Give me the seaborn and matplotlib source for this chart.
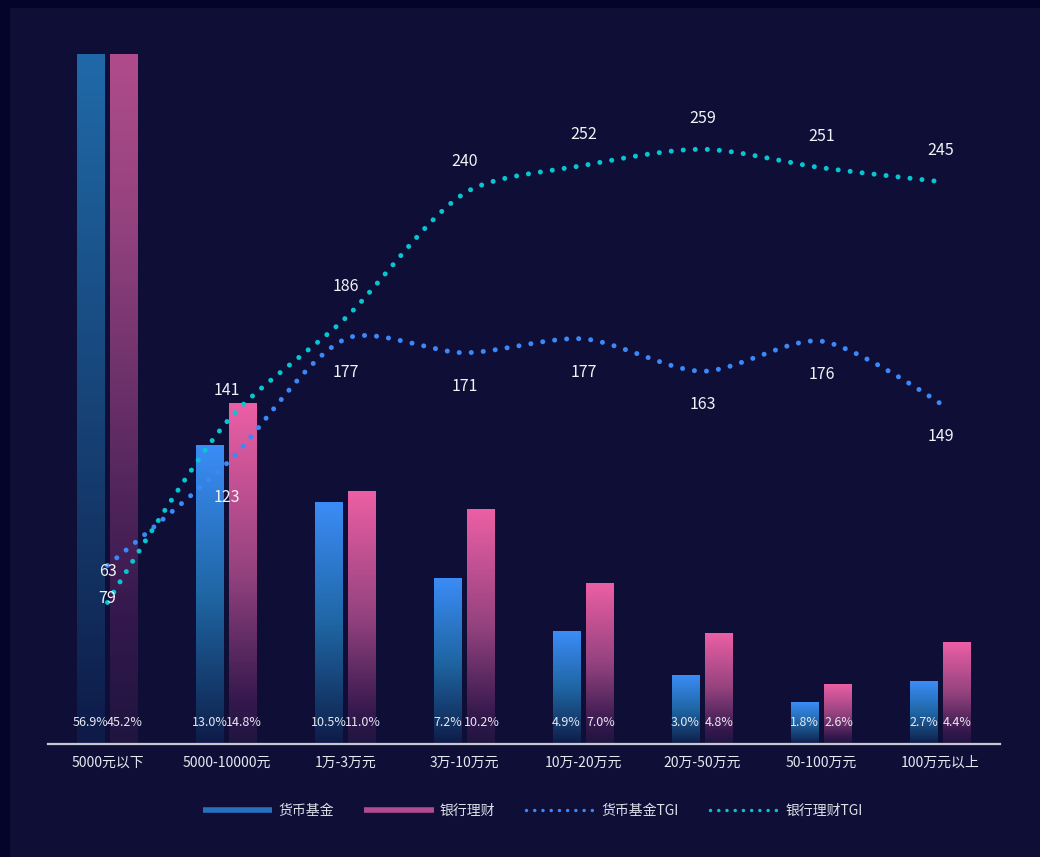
import numpy as np
import pandas as pd
import matplotlib
matplotlib.use("Agg")
import matplotlib.pyplot as plt
import seaborn as sns
from matplotlib.colors import LinearSegmentedColormap
from matplotlib.lines import Line2D
from matplotlib.patches import Rectangle

# ---------------- data ----------------
categories = ["5000元以下", "5000-10000元", "1万-3万元", "3万-10万元",
              "10万-20万元", "20万-50万元", "50-100万元", "100万元以上"]
fund_share = [56.9, 13.0, 10.5, 7.2, 4.9, 3.0, 1.8, 2.7]
wealth_share = [45.2, 14.8, 11.0, 10.2, 7.0, 4.8, 2.6, 4.4]
fund_tgi = [79, 123, 177, 171, 177, 163, 176, 149]
wealth_tgi = [63, 141, 186, 240, 252, 259, 251, 245]
series_names = ["货币基金", "银行理财", "货币基金TGI", "银行理财TGI"]

# ---------------- style ----------------
sns.set_theme(style="dark")
plt.rcParams["font.family"] = ["Noto Sans CJK SC", "DejaVu Sans"]
plt.rcParams["axes.unicode_minus"] = False

BG_OUTER = "#04042a"
BG_INNER = "#0f0e37"
TXT = "#e8e8f0"
BLUE_LINE = "#3b88f7"
CYAN_LINE = "#08c6cf"
BAR_TOP = 30

fig = plt.figure(figsize=(10.4, 8.57), dpi=100, facecolor=BG_OUTER)
fig.patches.append(Rectangle((10 / 1040, 0), 1, (857 - 8) / 857,
                             transform=fig.transFigure, facecolor=BG_INNER,
                             edgecolor="none", zorder=-10))

ax = fig.add_axes([48 / 1040, 113.5 / 857, 952 / 1040, 689.5 / 857])
ax.set_facecolor("none")

df = pd.DataFrame({
    "cat": categories * 2,
    "val": fund_share + wealth_share,
    "series": [series_names[0]] * len(categories) + [series_names[1]] * len(categories),
})
sns.barplot(data=df, x="cat", y="val", hue="series", order=categories,
            hue_order=series_names[:2], width=0.57, gap=0.175, ax=ax,
            legend=False, palette=["#3b8cf7", "#ec5fa5"], saturation=1)

cmaps = [
    LinearSegmentedColormap.from_list("b", [(0, "#0e1a48"), (0.12, "#12305f"),
                                            (0.5, "#1f66a4"), (1, "#3b8cf7")]),
    LinearSegmentedColormap.from_list("p", [(0, "#1f1540"), (0.12, "#34184d"),
                                            (0.5, "#93427e"), (1, "#ec5fa5")]),
]
grad = np.linspace(1, 0, 256).reshape(-1, 1)
for cont, cmap in zip(ax.containers, cmaps):
    for bar in cont:
        x0 = bar.get_x(); w = bar.get_width(); h = bar.get_height()
        bar.set_facecolor("none")
        bar.set_edgecolor("none")
        im = ax.imshow(grad, cmap=cmap, extent=(x0, x0 + w, 0, h),
                       aspect="auto", zorder=2, interpolation="bicubic")
        clip = Rectangle((x0, 0), w, min(h, BAR_TOP), transform=ax.transData)
        im.set_clip_path(clip)
ax.set_xlim(-0.5, len(categories) - 0.5)
ax.set_ylim(0, BAR_TOP)

# percentage labels near the base
for cont in ax.containers:
    for bar in cont:
        ax.text(bar.get_x() + bar.get_width() / 2, 0.92, f"{bar.get_height():.1f}%",
                ha="center", va="center", fontsize=9, color=TXT, zorder=5)

ax.set_xlabel(""); ax.set_ylabel("")
ax.set_yticks([])
ax.tick_params(axis="x", length=0, pad=9, labelsize=10, labelcolor=TXT)
for s in ["top", "left", "right"]:
    ax.spines[s].set_visible(False)
ax.spines["bottom"].set_color("#c8c8d2")
ax.spines["bottom"].set_linewidth(1.6)
ax.grid(False)

# ---------------- TGI lines (echarts-like smoothing) ----------------
ax2 = ax.twinx()
ax2.set_ylim(2, 300.2)
ax2.set_yticks([])
for s in ["top", "left", "right", "bottom"]:
    ax2.spines[s].set_visible(False)
ax2.grid(False)

SX, SY = 119.0, 2.3127  # pixel scale per unit (x, y)


def smooth_curve(vals, smooth=0.28, n=40):
    pts = np.array([[i * SX, v * SY] for i, v in enumerate(vals)], float)
    m = len(pts)
    cin = pts.copy(); cout = pts.copy()
    for i in range(1, m - 1):
        cur = pts[i]; prv = pts[i - 1]; nxt = pts[i + 1]
        v = nxt - prv
        lp = np.linalg.norm(cur - prv); ln = np.linalg.norm(nxt - cur)
        r = ln / (ln + lp)
        cout[i] = cur + v * smooth * r
        cin[i] = cur - v * smooth * (1 - r)
    out = []
    t = np.linspace(0, 1, n)[:, None]
    for i in range(m - 1):
        p0, p1, p2, p3 = pts[i], cout[i], cin[i + 1], pts[i + 1]
        seg = ((1 - t) ** 3) * p0 + 3 * ((1 - t) ** 2) * t * p1 + 3 * (1 - t) * t ** 2 * p2 + t ** 3 * p3
        out.append(seg if i == 0 else seg[1:])
    out = np.vstack(out)
    return out[:, 0] / SX, out[:, 1] / SY


for vals, col in [(fund_tgi, BLUE_LINE), (wealth_tgi, CYAN_LINE)]:
    xs, ys = smooth_curve(vals)
    ax2.plot(xs, ys, color=col, lw=3.6, linestyle=(0, (0.01, 2.4)),
             dash_capstyle="round", zorder=4)

for i, v in enumerate(fund_tgi):
    ax2.annotate(str(v), (i, v), xytext=(0, -24), textcoords="offset points",
                 ha="center", va="center", fontsize=11.5, color="#f2f2f6", zorder=6)
for i, v in enumerate(wealth_tgi):
    ax2.annotate(str(v), (i, v), xytext=(0, 22.5), textcoords="offset points",
                 ha="center", va="center", fontsize=11.5, color="#f2f2f6", zorder=6)

# ---------------- legend ----------------
handles = [
    Line2D([], [], color="#2670bd", lw=4.0, solid_capstyle="butt"),
    Line2D([], [], color="#b04b8f", lw=4.0, solid_capstyle="butt"),
    Line2D([], [], color=BLUE_LINE, lw=2.5, linestyle=(0, (0.01, 2.36)), dash_capstyle="round"),
    Line2D([], [], color=CYAN_LINE, lw=2.5, linestyle=(0, (0.01, 2.36)), dash_capstyle="round"),
]
fig.legend(handles, series_names, loc="center", bbox_to_anchor=(0.512, 0.054),
           ncol=4, frameon=False, handlelength=5.0, handletextpad=0.45,
           columnspacing=2.2, fontsize=10, labelcolor="#e0e0ea")

fig.savefig("out.png", dpi=100, facecolor=fig.get_facecolor())
